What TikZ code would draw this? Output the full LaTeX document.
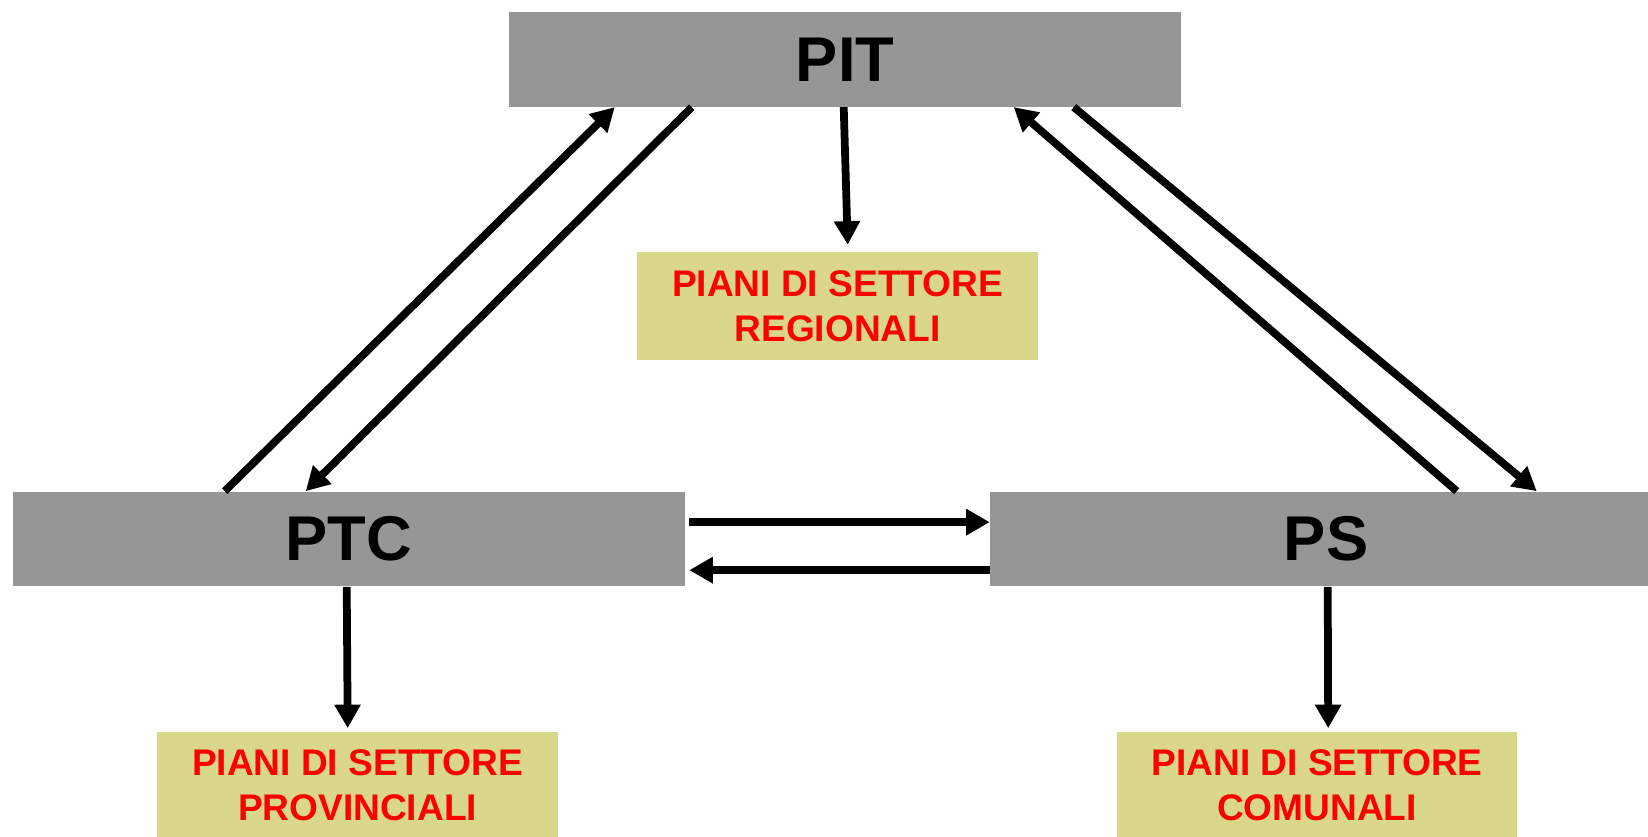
\documentclass[tikz,border=0pt]{standalone}
\usepackage{fontspec}
\setmainfont{Liberation Sans}
\usetikzlibrary{arrows.meta,calc}
\definecolor{boxgrey}{RGB}{150,150,150}
\definecolor{boxkhaki}{RGB}{219,215,138}
\definecolor{txtred}{RGB}{255,0,0}
\begin{document}
\begin{tikzpicture}[x=0.02cm,y=-0.02cm,
  mainbox/.style={fill=boxgrey,draw=none,minimum width=13.44cm,minimum height=1.9cm,
    inner sep=0pt,font=\fontsize{36}{43}\selectfont\bfseries,text=black},
  subbox/.style={fill=boxkhaki,draw=none,minimum width=8.02cm,minimum height=2.16cm,
    inner sep=0pt,align=center,font=\fontsize{21.1}{25.6}\selectfont\bfseries,text=txtred},
  arr/.style={line width=0.155cm,-{Triangle[length=0.47cm,width=0.5cm]}}]
\useasboundingbox (0,0) rectangle (1648,837);
\node[mainbox] (pit) at (845,59.3) {PIT};
\node[mainbox] (ptc) at (349,539) {PTC};
\node[mainbox] (ps)  at (1326,539) {PS};
\node[subbox] (reg)  at (837.5,306) {PIANI DI SETTORE\\REGIONALI};
\node[subbox] (prov) at (357.5,785.5) {PIANI DI SETTORE\\PROVINCIALI};
\node[subbox] (com)  at (1317,785.5) {PIANI DI SETTORE\\COMUNALI};
% PIT <-> PTC
\draw[arr] ($(ptc.north west)+(212,0)$) -- ($(pit.south west)+(106,0)$);
\draw[arr] ($(pit.south west)+(183,0)$) -- ($(ptc.north west)+(293,0)$);
% PIT <-> PS
\draw[arr] ($(ps.north west)+(467,0)$) -- ($(pit.south west)+(505,0)$);
\draw[arr] ($(pit.south west)+(565,0)$) -- ($(ps.north west)+(547,0)$);
% PTC <-> PS
\draw[arr] ($(ptc.north east)+(4,31)$) -- ($(ps.north west)+(0,31)$);
\draw[arr] ($(ps.north west)+(0,79)$) -- ($(ptc.north east)+(4,79)$);
% to sector plans
\draw[arr] ($(pit.south west)+(335,0)$) -- ($(reg.north west)+(211,-7)$);
\draw[arr] ($(ptc.south west)+(334,0)$) -- ($(prov.north west)+(191,-3)$);
\draw[arr] ($(ps.south west)+(338,0)$) -- ($(com.north west)+(212,-3)$);
\end{tikzpicture}
\end{document}
